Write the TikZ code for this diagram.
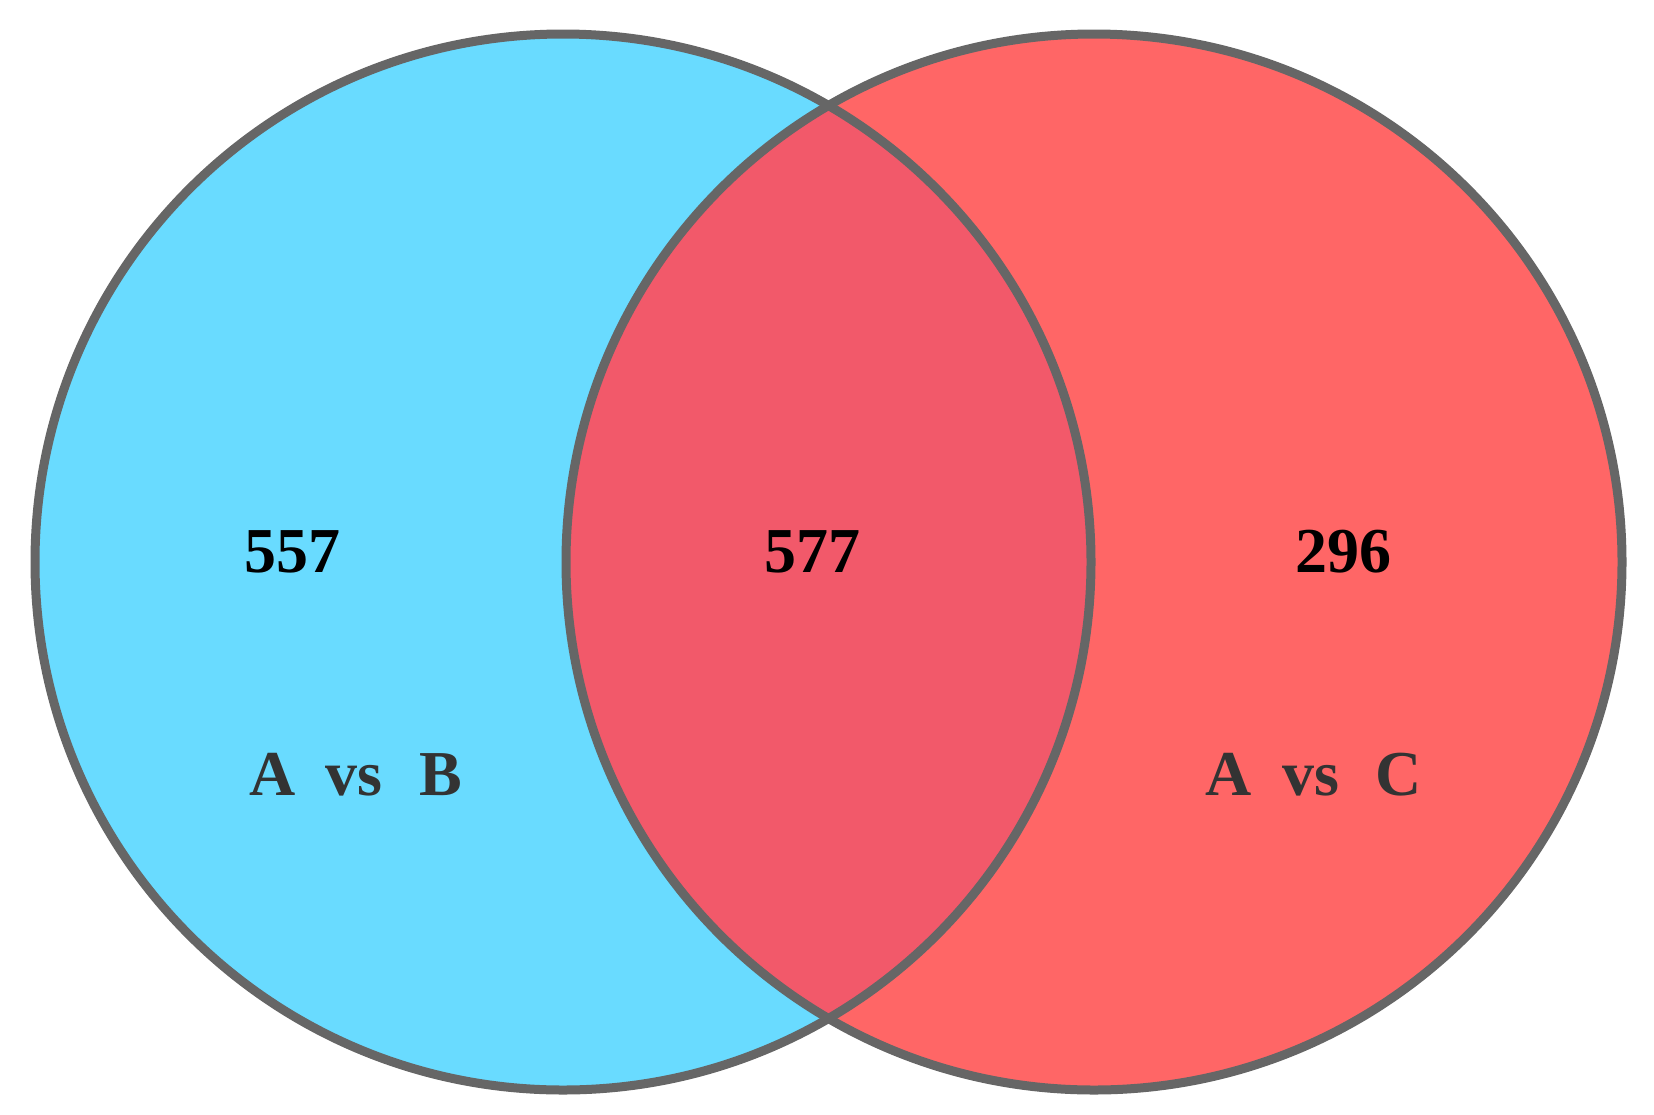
\documentclass[tikz,border=0pt]{standalone}
\usepackage{fontspec}
\setmainfont{Liberation Serif}
\definecolor{setblue}{HTML}{69DBFF}
\definecolor{setred}{HTML}{FF6666}
\definecolor{setboth}{HTML}{F2596A}
\definecolor{rimgray}{HTML}{666666}
\definecolor{labelgray}{HTML}{333333}
\tikzset{
  rim/.style={draw=rimgray, line width=9pt},
  count/.style={font=\fontsize{64}{70}\selectfont\bfseries, text=black, inner sep=0pt},
  setname/.style={font=\fontsize{64}{70}\selectfont\bfseries, text=labelgray, inner sep=0pt},
}
\begin{document}
\begin{tikzpicture}[x=1pt,y=-1pt]
  \useasboundingbox (0,0) rectangle (1654,1114);
  \coordinate (cl) at (563,562);
  \coordinate (cr) at (1094,562);
  % the two sets
  \fill[setblue] (cl) circle (528);
  \fill[setred] (cr) circle (528);
  \begin{scope}
    \clip (cl) circle (528);
    \fill[setboth] (cr) circle (528);
  \end{scope}
  \draw[rim] (cl) circle (528);
  \draw[rim] (cr) circle (528);
  % counts
  \node[count] (onlyb) at (292,552) {557};
  \node[count] (both) at (812,552) {577};
  \node[count] (onlyc) at (1343,552) {296};
  % set names
  \node[setname] (nameb) at (356,775) {A\hspace{30pt}vs\hspace{37pt}B};
  \node[setname] (namec) at (1314,775) {A\hspace{30pt}vs\hspace{37pt}C};
\end{tikzpicture}
\end{document}
